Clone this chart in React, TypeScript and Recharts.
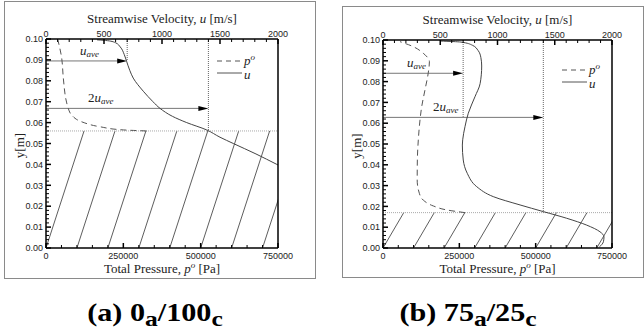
import React from 'react';
import { ComposedChart, Line, XAxis, YAxis, ReferenceLine, Legend, Label } from 'recharts';

const VELOCITY_TICKS = [0, 500, 1000, 1500, 2000];
const PRESSURE_TICKS = [0, 250000, 500000, 750000];
const HEIGHT_TICKS = [0, 0.01, 0.02, 0.03, 0.04, 0.05, 0.06, 0.07, 0.08, 0.09, 0.1];

// (a) 0a/100c : velocity u [m/s] and total pressure p [Pa] against y [m]
const velocityA = [
  { y: 0.038, u: 2060 },
  { y: 0.04, u: 1990 },
  { y: 0.045, u: 1810 },
  { y: 0.05, u: 1615 },
  { y: 0.053, u: 1500 },
  { y: 0.0565, u: 1385 },
  { y: 0.06, u: 1213 },
  { y: 0.063, u: 1090 },
  { y: 0.0668, u: 983 },
  { y: 0.07, u: 922 },
  { y: 0.075, u: 839 },
  { y: 0.0813, u: 752 },
  { y: 0.085, u: 722 },
  { y: 0.0893, u: 695 },
  { y: 0.0925, u: 675 },
  { y: 0.0962, u: 640 },
  { y: 0.0982, u: 600 },
  { y: 0.0992, u: 530 },
  { y: 0.0996, u: 440 },
];
const pressureA = [
  { y: 0.056, p: 325000 },
  { y: 0.0565, p: 250000 },
  { y: 0.058, p: 175000 },
  { y: 0.0604, p: 115000 },
  { y: 0.0636, p: 83000 },
  { y: 0.0668, p: 72000 },
  { y: 0.0694, p: 67000 },
  { y: 0.0813, p: 56000 },
  { y: 0.0909, p: 50700 },
  { y: 0.0998, p: 38000 },
];
const wallA = 0.056;
const hatchStartsA = [0, 100000, 200000, 300000, 400000, 500000, 600000, 700000];
const hatchShiftA = 123000;
const arrowsA = [
  { y: 0.0895, to: 700, prefix: '', labelAt: 293 },
  { y: 0.0668, to: 1400, prefix: '2', labelAt: 362 },
];
const guidesA = [
  { u: 700, top: 0.1, bottom: 0.0895 },
  { u: 1400, top: 0.1, bottom: 0.056 },
];

// (b) 75a/25c
const velocityB = [
  { y: 0.0005, u: 1890 },
  { y: 0.003, u: 1925 },
  { y: 0.0054, u: 1930 },
  { y: 0.0078, u: 1895 },
  { y: 0.011, u: 1779 },
  { y: 0.0143, u: 1604 },
  { y: 0.0175, u: 1400 },
  { y: 0.0207, u: 1197 },
  { y: 0.0247, u: 963 },
  { y: 0.0295, u: 818 },
  { y: 0.0359, u: 736 },
  { y: 0.0423, u: 701 },
  { y: 0.0495, u: 693 },
  { y: 0.052, u: 696 },
  { y: 0.0583, u: 716 },
  { y: 0.0648, u: 745 },
  { y: 0.0727, u: 803 },
  { y: 0.079, u: 848 },
  { y: 0.0875, u: 862 },
  { y: 0.0915, u: 855 },
  { y: 0.095, u: 830 },
  { y: 0.0975, u: 780 },
  { y: 0.099, u: 680 },
  { y: 0.0995, u: 500 },
];
const pressureB = [
  { y: 0.017, p: 268600 },
  { y: 0.0183, p: 208600 },
  { y: 0.0202, p: 165000 },
  { y: 0.023, p: 132000 },
  { y: 0.0263, p: 119000 },
  { y: 0.0327, p: 112000 },
  { y: 0.0423, p: 112500 },
  { y: 0.0519, p: 115600 },
  { y: 0.0583, p: 119000 },
  { y: 0.0679, p: 126700 },
  { y: 0.076, p: 137500 },
  { y: 0.084, p: 148000 },
  { y: 0.0896, p: 152000 },
  { y: 0.0936, p: 132000 },
  { y: 0.0968, p: 99000 },
  { y: 0.0992, p: 55700 },
];
const wallB = 0.017;
const hatchStartsB = [0, 100000, 200000, 300000, 400000, 500000, 600000, 700000];
const hatchShiftB = 68000;
const arrowsB = [
  { y: 0.084, to: 700, prefix: '', labelAt: 210 },
  { y: 0.0628, to: 1400, prefix: '2', labelAt: 437 },
];
const guidesB = [
  { u: 700, top: 0.1, bottom: 0.063 },
  { u: 1400, top: 0.1, bottom: 0.017 },
];

const SANS = "'Liberation Sans', Arial, sans-serif";
const SERIF = "'Liberation Serif', 'Times New Roman', serif";

const withMinor = (major: number[], n = 5) => {
  const out: number[] = [];
  for (let i = 0; i < major.length - 1; i++) {
    const step = (major[i + 1] - major[i]) / n;
    for (let k = 0; k < n; k++) out.push(+(major[i] + k * step).toPrecision(10));
  }
  out.push(major[major.length - 1]);
  return out;
};
const isMajor = (v: number, major: number[]) => major.some((m) => Math.abs(m - v) < 1e-9);

const TopTick = (props: any) => {
  const { x, y, payload } = props;
  const major = isMajor(payload.value, VELOCITY_TICKS);
  return (
    <g>
      <line x1={x} x2={x} y1={y} y2={y + (major ? 5 : 3)} stroke="#000" strokeWidth={major ? 1.5 : 1} />
      {major && (
        <text x={x} y={y - 2.5} textAnchor="middle" fontSize={9} fontFamily={SANS} fill="#222">
          {payload.value}
        </text>
      )}
    </g>
  );
};

const BottomTick = (props: any) => {
  const { x, y, payload } = props;
  const major = isMajor(payload.value, PRESSURE_TICKS);
  return (
    <g>
      <line x1={x} x2={x} y1={y} y2={y - (major ? 5 : 3)} stroke="#000" strokeWidth={major ? 1.5 : 1} />
      {major && (
        <text x={x} y={y + 10.5} textAnchor="middle" fontSize={9} fontFamily={SANS} fill="#222">
          {payload.value}
        </text>
      )}
    </g>
  );
};

const LeftTick = (props: any) => {
  const { x, y, payload } = props;
  const major = isMajor(payload.value, HEIGHT_TICKS);
  return (
    <g>
      <line x1={x} x2={x + (major ? 5 : 3)} y1={y} y2={y} stroke="#000" strokeWidth={major ? 1.5 : 1} />
      {major && (
        <text x={x - 3} y={y + 3.2} textAnchor="end" fontSize={9} fontFamily={SANS} fill="#222">
          {payload.value.toFixed(2)}
        </text>
      )}
    </g>
  );
};

const arrowShape = (prefix: string, labelAt: number, to: number) => (props: any) => {
  const { x1, y1, x2, y2 } = props;
  const lx = x1 + ((x2 - x1) * labelAt) / to;
  return (
    <g>
      <line x1={x1} y1={y1} x2={x2 - 8} y2={y2} stroke="#777" strokeWidth={1} />
      <path d={`M${x2},${y2} L${x2 - 10},${y2 - 2.5} L${x2 - 10},${y2 + 2.5} Z`} fill="#000" />
      <text x={lx} y={y1 - 6} fontSize={13} fontFamily={SERIF} fill="#222">
        {prefix}
        <tspan fontStyle="italic">u</tspan>
        <tspan fontStyle="italic" fontSize={9} dy={2}>
          ave
        </tspan>
      </text>
    </g>
  );
};

const LegendBox = () => (
  <div style={{ fontFamily: SERIF, fontStyle: 'italic', fontSize: 13, color: '#222' }}>
    <div style={{ display: 'flex', alignItems: 'center', height: 12 }}>
      <svg width={25} height={10}>
        <line x1={0} x2={25} y1={5} y2={5} stroke="#555" strokeDasharray="5 4" />
      </svg>
      <span style={{ marginLeft: 2, lineHeight: '10px' }}>
        p<sup style={{ fontSize: 9, lineHeight: 0 }}>o</sup>
      </span>
    </div>
    <div style={{ display: 'flex', alignItems: 'center', height: 12 }}>
      <svg width={25} height={10}>
        <line x1={0} x2={25} y1={5} y2={5} stroke="#555" />
      </svg>
      <span style={{ marginLeft: 2, lineHeight: '10px', position: 'relative', top: 2 }}>u</span>
    </div>
  </div>
);

type PanelProps = {
  box: { left: number; top: number; width: number; height: number };
  plot: { left: number; top: number; right: number; bottom: number };
  legendAt: { left: number; top: number };
  velocity: { y: number; u: number }[];
  pressure: { y: number; p: number }[];
  wall: number;
  hatchStarts: number[];
  hatchShift: number;
  arrows: { y: number; to: number; prefix: string; labelAt: number }[];
  guides: { u: number; top: number; bottom: number }[];
};

const Panel = ({ box, plot, legendAt, velocity, pressure, wall, hatchStarts, hatchShift, arrows, guides }: PanelProps) => (
  <div
    style={{
      position: 'absolute',
      left: box.left - 1,
      top: box.top - 1,
      width: box.width,
      height: box.height,
      border: '1px solid #8a8a8a',
    }}
  >
    <ComposedChart
      width={box.width}
      height={box.height}
      margin={{ top: plot.top - 1, right: plot.right - 1, bottom: plot.bottom - 1, left: plot.left - 1 }}
    >
      <XAxis
        xAxisId="u"
        dataKey="u"
        type="number"
        orientation="top"
        domain={[0, 2000]}
        allowDataOverflow
        ticks={withMinor(VELOCITY_TICKS)}
        interval={0}
        height={1}
        tickSize={0}
        tickMargin={0}
        tickLine={false}
        tick={<TopTick />}
        axisLine={{ stroke: '#000', strokeWidth: 1.5 }}
      >
        <Label
          content={(p: any) => {
            const vb = p.viewBox;
            return (
              <text x={vb.x + vb.width / 2} y={vb.y + vb.height - 16.5} textAnchor="middle" fontSize={13} fontFamily={SERIF} fill="#222">
                Streamwise Velocity, <tspan fontStyle="italic">u</tspan> [m/s]
              </text>
            );
          }}
        />
      </XAxis>
      <XAxis
        xAxisId="p"
        dataKey="p"
        type="number"
        orientation="bottom"
        domain={[0, 750000]}
        allowDataOverflow
        ticks={withMinor(PRESSURE_TICKS)}
        interval={0}
        height={1}
        tickSize={0}
        tickMargin={0}
        tickLine={false}
        tick={<BottomTick />}
        axisLine={{ stroke: '#000', strokeWidth: 1.5 }}
      >
        <Label
          content={(p: any) => {
            const vb = p.viewBox;
            return (
              <text x={vb.x + vb.width / 2} y={vb.y + 24.5} textAnchor="middle" fontSize={13} fontFamily={SERIF} fill="#222">
                Total Pressure, <tspan fontStyle="italic">p</tspan>
                <tspan fontStyle="italic" fontSize={9} dy={-5}>
                  o
                </tspan>
                <tspan dy={5}> [Pa]</tspan>
              </text>
            );
          }}
        />
      </XAxis>
      <YAxis
        type="number"
        domain={[0, 0.1]}
        allowDataOverflow
        ticks={withMinor(HEIGHT_TICKS)}
        interval={0}
        width={1}
        tickSize={0}
        tickMargin={0}
        tickLine={false}
        tick={<LeftTick />}
        axisLine={{ stroke: '#000', strokeWidth: 1.5 }}
      >
        <Label
          content={(p: any) => {
            const vb = p.viewBox;
            const cx = vb.x + vb.width - 22;
            const cy = vb.y + vb.height / 2 + 2;
            return (
              <text x={cx} y={cy} transform={`rotate(-90, ${cx}, ${cy})`} textAnchor="middle" fontSize={13} fontFamily={SERIF} fill="#222">
                y[m]
              </text>
            );
          }}
        />
      </YAxis>
      <YAxis
        yAxisId="r"
        orientation="right"
        type="number"
        domain={[0, 0.1]}
        width={1}
        tick={false}
        tickLine={false}
        axisLine={{ stroke: '#000', strokeWidth: 1.5 }}
      />

      {hatchStarts.map((start) => (
        <Line
          key={`h-${start}`}
          xAxisId="p"
          data={[
            { p: start, y: 0 },
            { p: start + hatchShift, y: wall },
          ]}
          dataKey="y"
          type="linear"
          stroke="#333"
          strokeWidth={0.8}
          dot={false}
          activeDot={false}
          isAnimationActive={false}
          legendType="none"
        />
      ))}
      <ReferenceLine xAxisId="u" y={wall} stroke="#aaa" strokeDasharray="1 1" />
      {guides.map((g) => (
        <ReferenceLine
          key={`g-${g.u}`}
          xAxisId="u"
          segment={[
            { x: g.u, y: g.top },
            { x: g.u, y: g.bottom },
          ]}
          stroke="#666"
          strokeDasharray="1 1"
        />
      ))}
      {arrows.map((a) => (
        <ReferenceLine
          key={`a-${a.to}`}
          xAxisId="u"
          segment={[
            { x: 0, y: a.y },
            { x: a.to, y: a.y },
          ]}
          shape={arrowShape(a.prefix, a.labelAt, a.to)}
        />
      ))}
      <Line
        xAxisId="p"
        data={pressure}
        dataKey="y"
        type="monotoneY"
        stroke="#555"
        strokeWidth={1}
        strokeDasharray="6 4"
        dot={false}
        activeDot={false}
        isAnimationActive={false}
      />
      <Line
        xAxisId="u"
        data={velocity}
        dataKey="y"
        type="monotoneY"
        stroke="#444"
        strokeWidth={1}
        dot={false}
        activeDot={false}
        isAnimationActive={false}
      />
      <Legend
        layout="vertical"
        align="center"
        verticalAlign="middle"
        wrapperStyle={{ left: legendAt.left, top: legendAt.top, width: 'auto' }}
        content={() => <LegendBox />}
      />
    </ComposedChart>
  </div>
);

const Caption = ({ center, main1, sub1, main2, sub2 }: { center: number; main1: string; sub1: string; main2: string; sub2: string }) => (
  <div
    style={{
      position: 'absolute',
      left: center - 150,
      width: 300,
      top: 298,
      textAlign: 'center',
      fontFamily: SERIF,
      fontWeight: 'bold',
      fontSize: 26,
      lineHeight: '30px',
      color: '#000',
      transform: 'scaleX(1.16)',
    }}
  >
    {main1}
    <span style={{ fontSize: 22, verticalAlign: -5 }}>{sub1}</span>
    {main2}
    <span style={{ fontSize: 22, verticalAlign: -5 }}>{sub2}</span>
  </div>
);

export default function App() {
  return (
    <div style={{ position: 'absolute', left: 0, top: 0, width: 644, height: 336, background: '#fff', overflow: 'hidden' }}>
      <Panel
        box={{ left: 5, top: 2, width: 310, height: 276 }}
        plot={{ left: 41, top: 37, right: 37, bottom: 30 }}
        legendAt={{ left: 212, top: 53 }}
        velocity={velocityA}
        pressure={pressureA}
        wall={wallA}
        hatchStarts={hatchStartsA}
        hatchShift={hatchShiftA}
        arrows={arrowsA}
        guides={guidesA}
      />
      <Panel
        box={{ left: 343, top: 7, width: 300, height: 270 }}
        plot={{ left: 40, top: 33, right: 31, bottom: 29 }}
        legendAt={{ left: 219, top: 57 }}
        velocity={velocityB}
        pressure={pressureB}
        wall={wallB}
        hatchStarts={hatchStartsB}
        hatchShift={hatchShiftB}
        arrows={arrowsB}
        guides={guidesB}
      />
      <Caption center={155} main1="(a) 0" sub1="a" main2="/100" sub2="c" />
      <Caption center={468} main1="(b) 75" sub1="a" main2="/25" sub2="c" />
    </div>
  );
}
